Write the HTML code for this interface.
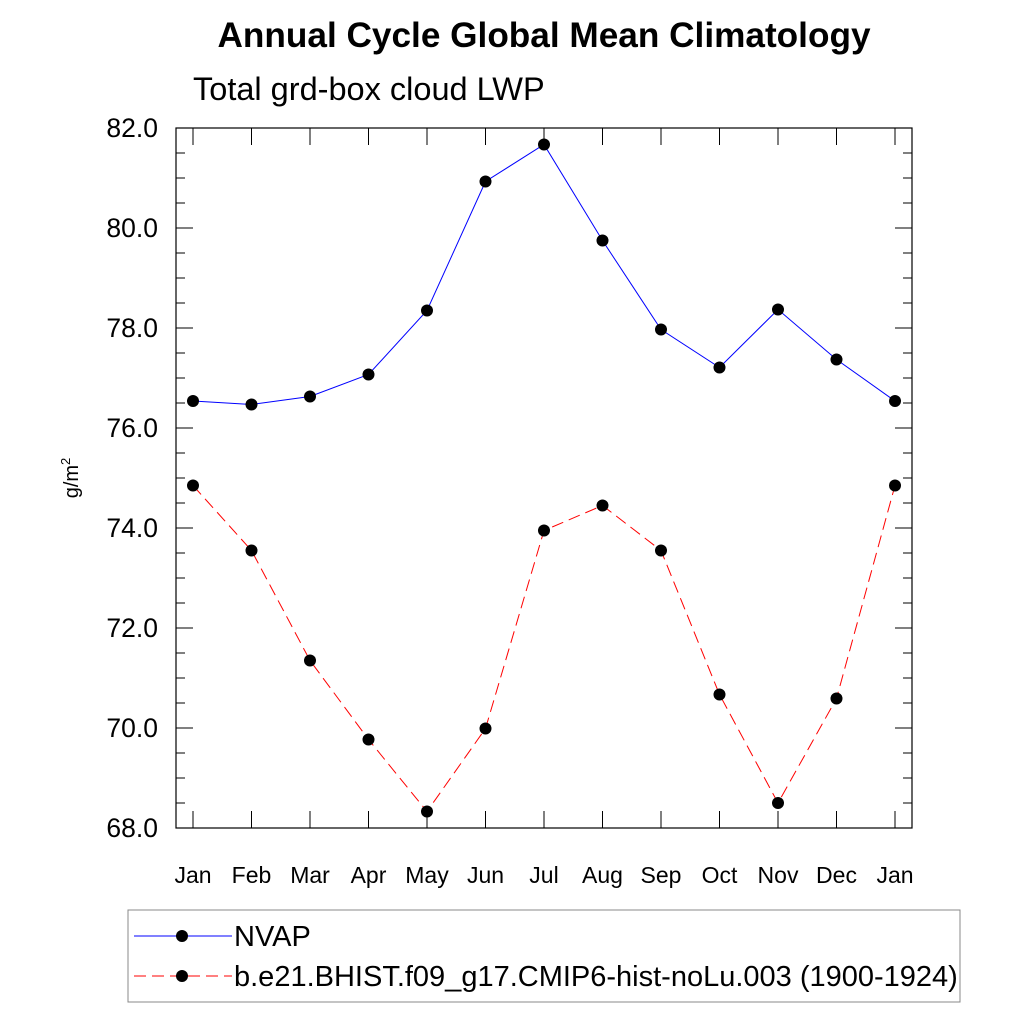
<!DOCTYPE html>
<html><head><meta charset="utf-8"><style>
body{margin:0;background:#fff;font-family:"Liberation Sans",sans-serif}
</style></head><body>
<svg id="chart" width="1024" height="1024" xmlns="http://www.w3.org/2000/svg" font-family="Liberation Sans, sans-serif">
<text x="544" y="47" font-size="35.2" font-weight="bold" text-anchor="middle">Annual Cycle Global Mean Climatology</text>
<text x="193" y="100" font-size="32.5">Total grd-box cloud LWP</text>
<text transform="translate(78,478) rotate(-90)" font-size="20" text-anchor="middle">g/m<tspan font-size="13" dy="-8">2</tspan></text>
<g id="axes"></g><g id="series"></g>
<g>
<rect x="128" y="910" width="832" height="92" fill="none" stroke="#888" stroke-width="1"/>
<line x1="134" y1="936" x2="232" y2="936" stroke="#0000ff" stroke-width="1"/>
<circle cx="182" cy="936" r="6" fill="#000"/>
<text x="234" y="946" font-size="29">NVAP</text>
<line x1="134" y1="976" x2="232" y2="976" stroke="#ff0000" stroke-width="1" stroke-dasharray="12,6"/>
<circle cx="182" cy="976" r="6" fill="#000"/>
<text x="234" y="986" font-size="29">b.e21.BHIST.f09_g17.CMIP6-hist-noLu.003 (1900-1924)</text>
</g>
</svg>
<script>
const months=["Jan","Feb","Mar","Apr","May","Jun","Jul","Aug","Sep","Oct","Nov","Dec","Jan"];
const nvap=[76.54,76.47,76.63,77.07,78.35,80.93,81.67,79.75,77.97,77.21,78.37,77.37,76.54];
const model=[74.85,73.55,71.35,69.77,68.33,69.99,73.95,74.45,73.55,70.67,68.5,70.59,74.85];
const yTicks=[68,70,72,74,76,78,80,82];
const NS="http://www.w3.org/2000/svg";
const L=176,R=912,T=128,B=828;
const xs=i=>193+i*(895-193)/12;
const ys=v=>B-(v-68)*(B-T)/14;
function mk(tag,at,parent){const e=document.createElementNS(NS,tag);for(const k in at)e.setAttribute(k,at[k]);parent.appendChild(e);return e;}
const ax=document.getElementById('axes');
const frame=mk('rect',{x:L,y:T,width:R-L,height:B-T,fill:'none',stroke:'#000','stroke-width':1.2},ax);


for(let v=68;v<=82.001;v+=0.5){
  const y=ys(v),major=Math.abs(v-Math.round(v/2)*2)<1e-6,len=major?17:9;
  mk('line',{x1:L,y1:y,x2:L+len,y2:y,stroke:'#000'},ax);
  mk('line',{x1:R,y1:y,x2:R-len,y2:y,stroke:'#000'},ax);
}
yTicks.forEach(v=>{
  const t=mk('text',{x:L-18,y:ys(v)+9,'font-size':26.5,'text-anchor':'end'},ax);
  t.textContent=v.toFixed(1);
  
  
});
months.forEach((m,i)=>{
  const x=xs(i);
  mk('line',{x1:x,y1:T,x2:x,y2:T+17,stroke:'#000'},ax);
  mk('line',{x1:x,y1:B,x2:x,y2:B-17,stroke:'#000'},ax);
  const t=mk('text',{x:x,y:883,'font-size':23,'text-anchor':'middle'},ax);
  t.textContent=m;
  
  
});
const sg=document.getElementById('series');
function draw(vals,color,dash,name){
  const p=mk('polyline',{points:vals.map((v,i)=>xs(i)+','+ys(v)).join(' '),fill:'none',stroke:color,'stroke-width':1,'stroke-dasharray':dash},sg);
  
  
  vals.forEach((v,i)=>{
    const c=mk('circle',{cx:xs(i),cy:ys(v),r:6,fill:'#000'},sg);
    
    
  });
}
draw(nvap,'#0000ff','none','nvap');
draw(model,'#ff0000','12,6','model');
</script>
</body></html>
